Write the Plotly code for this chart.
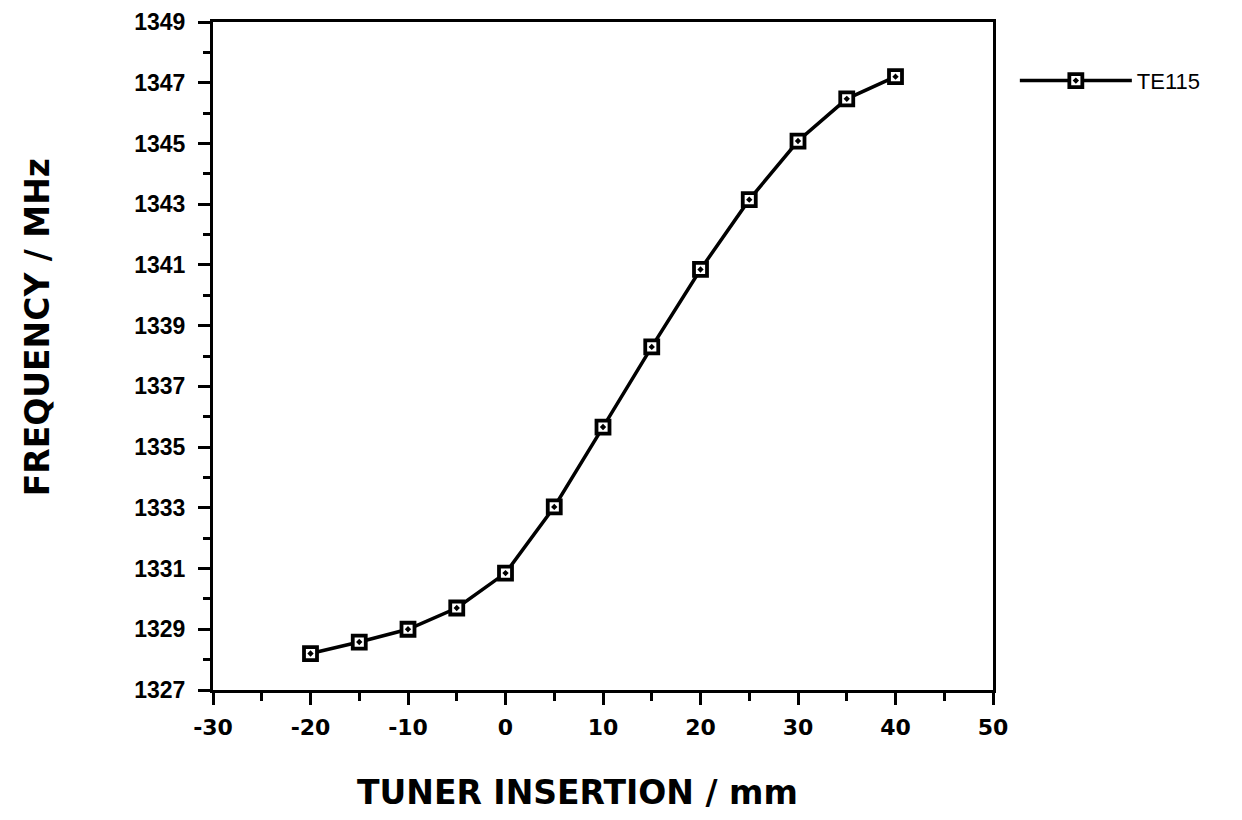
import plotly.graph_objects as go

insertion_mm = [-20, -15, -10, -5, 0, 5, 10, 15, 20, 25, 30, 35, 40]
freq_mhz = [1328.2, 1328.58, 1329.0, 1329.7, 1330.85, 1333.03, 1335.66, 1338.3,
            1340.85, 1343.15, 1345.08, 1346.47, 1347.2]
series_name = "TE115"

x_tickvals = [-30, -20, -10, 0, 10, 20, 30, 40, 50]
x_ticktext = ["-30", "-20", "-10", "0", "10", "20", "30", "40", "50"]
y_tickvals = [1327, 1329, 1331, 1333, 1335, 1337, 1339, 1341, 1343, 1345, 1347, 1349]

fig = go.Figure()
fig.add_trace(go.Scatter(
    x=insertion_mm, y=freq_mhz, name=series_name, mode="lines+markers",
    line=dict(color="black", width=3.5),
    marker=dict(symbol="square-dot", size=13, color="white",
                line=dict(color="black", width=3.8)),
))

arial = "Liberation Sans, Arial, Helvetica, sans-serif"
wide = "DejaVu Sans, Verdana, sans-serif"
fig.update_layout(
    width=1242, height=820,
    margin=dict(l=213, r=249, t=22, b=130, autoexpand=False),
    paper_bgcolor="white", plot_bgcolor="white",
    font=dict(family=arial, color="black"),
    showlegend=True,
    legend=dict(x=1.028, y=0.912, xanchor="left", yanchor="middle",
                font=dict(size=22, family=arial, color="black"),
                bgcolor="rgba(0,0,0,0)", itemwidth=112),
    xaxis=dict(range=[-30, 50], tickvals=x_tickvals, ticktext=x_ticktext,
               ticks="outside", ticklen=12, tickwidth=3, tickcolor="black",
               minor=dict(dtick=5, tick0=0, ticks="outside", ticklen=8, tickwidth=3, tickcolor="black"),
               showline=True, linewidth=3, linecolor="black", mirror=True,
               showgrid=False, zeroline=False, ticklabelstandoff=4, automargin=False,
               tickfont=dict(size=22, family=wide, color="black", weight="bold"),
               ),
    yaxis=dict(range=[1327, 1349], tickvals=y_tickvals,
               ticks="outside", ticklen=12, tickwidth=3, tickcolor="black",
               minor=dict(dtick=1, tick0=1327, ticks="outside", ticklen=7, tickwidth=3, tickcolor="black"),
               showline=True, linewidth=3, linecolor="black", mirror=True,
               showgrid=False, zeroline=False, ticklabelstandoff=8, automargin=False,
               tickfont=dict(size=23, family=arial, color="black", weight="bold"),
               ),
    annotations=[
        dict(text="TUNER INSERTION / mm", xref="paper", yref="paper",
             x=0.4667, y=-0.154, xanchor="center", yanchor="middle", showarrow=False,
             font=dict(size=33, family=wide, color="black", weight="bold")),
        dict(text="FREQUENCY / MHz", xref="paper", yref="paper",
             x=-0.2256, y=0.543, xanchor="center", yanchor="middle", showarrow=False,
             textangle=-90,
             font=dict(size=33, family=wide, color="black", weight="bold")),
    ],
)

fig.write_html("out.html")
